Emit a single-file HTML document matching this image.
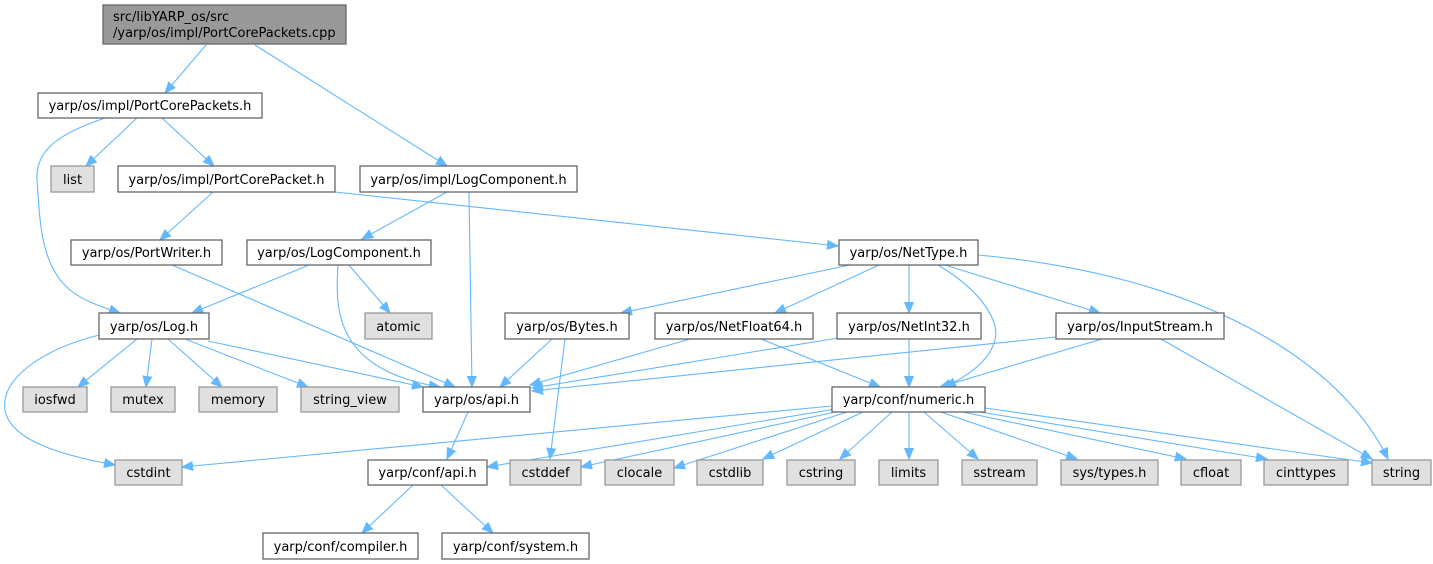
<!DOCTYPE html>
<html><head><meta charset="utf-8"><style>
html,body{margin:0;padding:0;background:#fff;}
svg{display:block}
text{font-family:"DejaVu Sans","Liberation Sans",sans-serif;font-size:13px;fill:#000;}
.n rect{fill:#fff;stroke:#666;stroke-width:1.3}
.g rect{fill:#e0e0e0;stroke:#999;stroke-width:1.3}
.e{fill:none;stroke:#63b8ff;stroke-width:1.1;marker-end:url(#a)}
</style></head><body>
<svg width="1433" height="564" viewBox="0 0 1433 564" xmlns="http://www.w3.org/2000/svg">
<defs><marker id="a" markerUnits="userSpaceOnUse" markerWidth="12" markerHeight="10" refX="11" refY="5" orient="auto"><path d="M0,0.5 L11,5 L0,9.5 z" fill="#63b8ff" stroke="#63b8ff"/></marker></defs>
<g>
<path class="e" d="M206,45 L165,93"/>
<path class="e" d="M255,45 L447,166"/>
<path class="e" d="M137,118 L86,166"/>
<path class="e" d="M162,118 L214,166"/>
<path class="e" d="M105,118 C60,133 35,150 37,180 C40,220 40,265 70,290 C85,302 105,308 120,313"/>
<path class="e" d="M213,192 L160,240"/>
<path class="e" d="M335,192 L838,246"/>
<path class="e" d="M447,192 L362,239"/>
<path class="e" d="M469,192 L472,387"/>
<path class="e" d="M172,265 L455,387"/>
<path class="e" d="M309,265 L192,313"/>
<path class="e" d="M349,265 L390,313"/>
<path class="e" d="M338,265 C335,310 335,370 440,387"/>
<path class="e" d="M137,339 L78,387"/>
<path class="e" d="M152,339 L146,387"/>
<path class="e" d="M168,339 L222,387"/>
<path class="e" d="M185,339 L308,387"/>
<path class="e" d="M208,341 L423,387"/>
<path class="e" d="M99,335 C40,350 0,380 5,410 C10,440 60,455 115,465"/>
<path class="e" d="M552,339 L500,387"/>
<path class="e" d="M565,339 L550,459"/>
<path class="e" d="M690,339 L530,385"/>
<path class="e" d="M761,339 L880,387"/>
<path class="e" d="M838,338 L532,388"/>
<path class="e" d="M909,339 L909,387"/>
<path class="e" d="M1056,337 L532,391"/>
<path class="e" d="M1102,339 L940,387"/>
<path class="e" d="M1161,339 L1372,459"/>
<path class="e" d="M850,265 L621,313"/>
<path class="e" d="M879,265 L775,313"/>
<path class="e" d="M909,265 L909,313"/>
<path class="e" d="M945,265 L1100,313"/>
<path class="e" d="M938,265 C980,290 1000,320 995,340 C990,360 970,375 945,387"/>
<path class="e" d="M978,255 C1200,275 1340,360 1388,459"/>
<path class="e" d="M468,412 L447,459"/>
<path class="e" d="M413,485 L362,533"/>
<path class="e" d="M441,485 L493,533"/>
<path class="e" d="M832,406 L182,467"/>
<path class="e" d="M835,409 L487,467"/>
<path class="e" d="M840,411 L581,467"/>
<path class="e" d="M850,411 L674,468"/>
<path class="e" d="M863,412 L763,459"/>
<path class="e" d="M892,412 L840,459"/>
<path class="e" d="M909,412 L909,459"/>
<path class="e" d="M924,412 L978,459"/>
<path class="e" d="M941,412 L1077,459"/>
<path class="e" d="M963,412 L1186,459"/>
<path class="e" d="M968,410 L1267,459"/>
<path class="e" d="M985,408 L1372,463"/>
</g>
<g class="n"><rect x="103" y="5" width="243" height="39" style="fill:#999"/><text x="113" y="21">src/libYARP_os/src</text><text x="113" y="37">/yarp/os/impl/PortCorePackets.cpp</text></g>
<g class="n"><rect x="38" y="93" width="224" height="25"/><text x="150" y="110" text-anchor="middle">yarp/os/impl/PortCorePackets.h</text></g>
<g class="g"><rect x="51" y="166" width="43" height="26"/><text x="72.5" y="184" text-anchor="middle">list</text></g>
<g class="n"><rect x="118" y="166" width="217" height="26"/><text x="226.5" y="184" text-anchor="middle">yarp/os/impl/PortCorePacket.h</text></g>
<g class="n"><rect x="360" y="166" width="217" height="26"/><text x="468.5" y="184" text-anchor="middle">yarp/os/impl/LogComponent.h</text></g>
<g class="n"><rect x="71" y="240" width="151" height="25"/><text x="146.5" y="257" text-anchor="middle">yarp/os/PortWriter.h</text></g>
<g class="n"><rect x="247" y="240" width="184" height="25"/><text x="339" y="257" text-anchor="middle">yarp/os/LogComponent.h</text></g>
<g class="n"><rect x="839" y="240" width="139" height="25"/><text x="908.5" y="257" text-anchor="middle">yarp/os/NetType.h</text></g>
<g class="n"><rect x="99" y="313" width="110" height="26"/><text x="154" y="331" text-anchor="middle">yarp/os/Log.h</text></g>
<g class="g"><rect x="365" y="313" width="67" height="26"/><text x="398.5" y="331" text-anchor="middle">atomic</text></g>
<g class="n"><rect x="505" y="313" width="124" height="26"/><text x="567" y="331" text-anchor="middle">yarp/os/Bytes.h</text></g>
<g class="n"><rect x="655" y="313" width="158" height="26"/><text x="734" y="331" text-anchor="middle">yarp/os/NetFloat64.h</text></g>
<g class="n"><rect x="837" y="313" width="144" height="26"/><text x="909" y="331" text-anchor="middle">yarp/os/NetInt32.h</text></g>
<g class="n"><rect x="1056" y="313" width="168" height="26"/><text x="1140" y="331" text-anchor="middle">yarp/os/InputStream.h</text></g>
<g class="g"><rect x="23" y="387" width="64" height="25"/><text x="55" y="404" text-anchor="middle">iosfwd</text></g>
<g class="g"><rect x="111" y="387" width="64" height="25"/><text x="143" y="404" text-anchor="middle">mutex</text></g>
<g class="g"><rect x="199" y="387" width="78" height="25"/><text x="238" y="404" text-anchor="middle">memory</text></g>
<g class="g"><rect x="301" y="387" width="98" height="25"/><text x="350" y="404" text-anchor="middle">string_view</text></g>
<g class="n"><rect x="423" y="387" width="107" height="25"/><text x="476.5" y="404" text-anchor="middle">yarp/os/api.h</text></g>
<g class="n"><rect x="832" y="387" width="153" height="25"/><text x="908.5" y="404" text-anchor="middle">yarp/conf/numeric.h</text></g>
<g class="g"><rect x="115" y="460" width="67" height="25"/><text x="148.5" y="477" text-anchor="middle">cstdint</text></g>
<g class="n"><rect x="368" y="460" width="119" height="25"/><text x="427.5" y="477" text-anchor="middle">yarp/conf/api.h</text></g>
<g class="g"><rect x="510" y="460" width="71" height="25"/><text x="545.5" y="477" text-anchor="middle">cstddef</text></g>
<g class="g"><rect x="605" y="460" width="69" height="25"/><text x="639.5" y="477" text-anchor="middle">clocale</text></g>
<g class="g"><rect x="697" y="460" width="66" height="25"/><text x="730" y="477" text-anchor="middle">cstdlib</text></g>
<g class="g"><rect x="787" y="460" width="68" height="25"/><text x="821" y="477" text-anchor="middle">cstring</text></g>
<g class="g"><rect x="879" y="460" width="59" height="25"/><text x="908.5" y="477" text-anchor="middle">limits</text></g>
<g class="g"><rect x="962" y="460" width="75" height="25"/><text x="999.5" y="477" text-anchor="middle">sstream</text></g>
<g class="g"><rect x="1061" y="460" width="97" height="25"/><text x="1109.5" y="477" text-anchor="middle">sys/types.h</text></g>
<g class="g"><rect x="1181" y="460" width="60" height="25"/><text x="1211" y="477" text-anchor="middle">cfloat</text></g>
<g class="g"><rect x="1264" y="460" width="84" height="25"/><text x="1306" y="477" text-anchor="middle">cinttypes</text></g>
<g class="g"><rect x="1372" y="460" width="59" height="25"/><text x="1401.5" y="477" text-anchor="middle">string</text></g>
<g class="n"><rect x="263" y="533" width="155" height="26"/><text x="340.5" y="551" text-anchor="middle">yarp/conf/compiler.h</text></g>
<g class="n"><rect x="442" y="533" width="147" height="26"/><text x="515.5" y="551" text-anchor="middle">yarp/conf/system.h</text></g>
</svg>
</body></html>
